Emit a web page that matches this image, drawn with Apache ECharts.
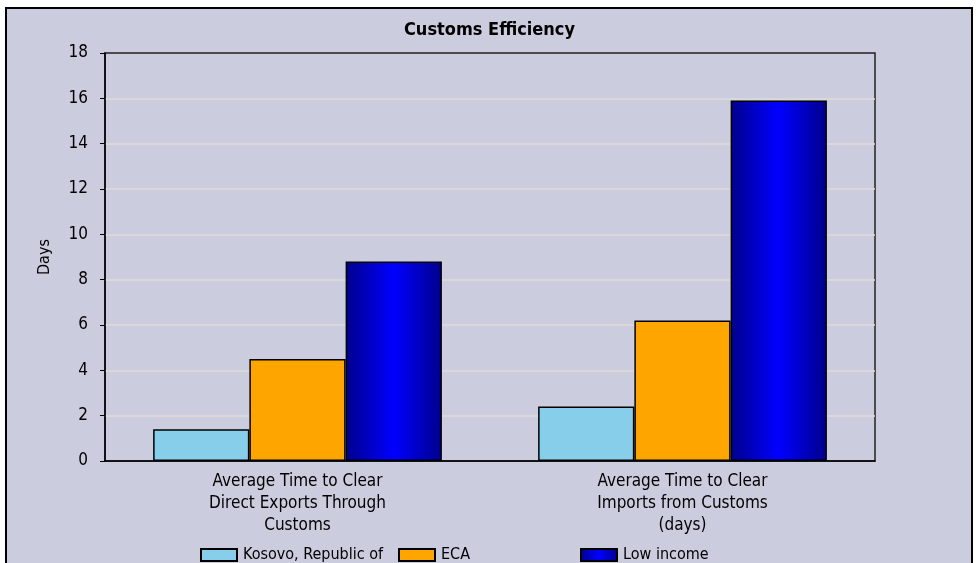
<!DOCTYPE html>
<html><head><meta charset="utf-8">
<script src="https://cdn.jsdelivr.net/npm/echarts@6/dist/echarts.min.js"></script>
<style>html,body{margin:0;padding:0;background:#fff}#c{width:979px;height:563px}</style>
</head><body><div id="c"></div>
<script>
const categories = ["Average Time to Clear\nDirect Exports Through\nCustoms", "Average Time to Clear\nImports from Customs\n(days)"];
const seriesNames = ["Kosovo, Republic of", "ECA", "Low income"];
const kosovo = [1.4, 2.4];
const eca = [4.5, 6.2];
const lowIncome = [8.8, 15.9];
const yTicks = [0, 2, 4, 6, 8, 10, 12, 14, 16, 18];

const FONT = '"DejaVu Sans Condensed", "Liberation Sans", Arial, sans-serif';
const chart = echarts.init(document.getElementById('c'), null, {renderer: 'canvas'});
const blueGrad = new echarts.graphic.LinearGradient(0, 0, 1, 0, [
  {offset: 0, color: '#00008c'}, {offset: 0.5, color: '#0000ff'}, {offset: 1, color: '#00008c'}
]);
function legendAt(name, left) {
  return {data: [name], left: left, top: 547, padding: 0, itemWidth: 36, itemHeight: 12, icon: 'rect',
    itemGap: 0, textStyle: {fontFamily: FONT, fontSize: 16, color: '#000', padding: [0, 0, 0, 1]},
    selectedMode: false};
}
chart.setOption({
  backgroundColor: '#ffffff',
  animation: false,
  graphic: [{type: 'rect', z: -10, shape: {x: 6, y: 8, width: 966, height: 570},
    style: {fill: '#cbccde', stroke: '#000', lineWidth: 2}}],
  title: {text: 'Customs Efficiency', left: 'center', top: 16,
    textStyle: {fontFamily: FONT, fontSize: 18, fontWeight: 'bold', color: '#000'}},
  legend: [legendAt(seriesNames[0], 200), legendAt(seriesNames[1], 398), legendAt(seriesNames[2], 580)],
  grid: {left: 105, right: 104, top: 53, bottom: 102, show: true, borderColor: '#222', borderWidth: 1.5, backgroundColor: 'transparent'},
  xAxis: {type: 'category', data: categories,
    axisLine: {lineStyle: {color: '#000', width: 1.5}}, axisTick: {show: false},
    axisLabel: {fontFamily: FONT, fontSize: 17, color: '#000', lineHeight: 22, margin: 10, interval: 0}},
  yAxis: {type: 'value', min: yTicks[0], max: yTicks[yTicks.length - 1], interval: 2,
    name: 'Days', nameLocation: 'middle', nameGap: 52, nameRotate: 90,
    nameTextStyle: {fontFamily: FONT, fontSize: 16, color: '#000'},
    axisLine: {show: true, lineStyle: {color: '#000', width: 1.5}},
    axisTick: {show: true, length: 5, lineStyle: {color: '#000'}},
    axisLabel: {fontFamily: FONT, fontSize: 17, color: '#000', margin: 17},
    splitLine: {showMinLine: false, showMaxLine: false, lineStyle: {color: '#dcdcd8', width: 1.5}}},
  series: [
    {name: seriesNames[0], type: 'bar', data: kosovo, barGap: '0%', barCategoryGap: '25%',
      itemStyle: {color: '#87ceeb', borderColor: '#000', borderWidth: 1.5}},
    {name: seriesNames[1], type: 'bar', data: eca, barGap: '0%', barCategoryGap: '25%',
      itemStyle: {color: '#ffa500', borderColor: '#000', borderWidth: 1.5}},
    {name: seriesNames[2], type: 'bar', data: lowIncome, barGap: '0%', barCategoryGap: '25%',
      itemStyle: {color: blueGrad, borderColor: '#000', borderWidth: 1.5}}
  ]
});
</script></body></html>
